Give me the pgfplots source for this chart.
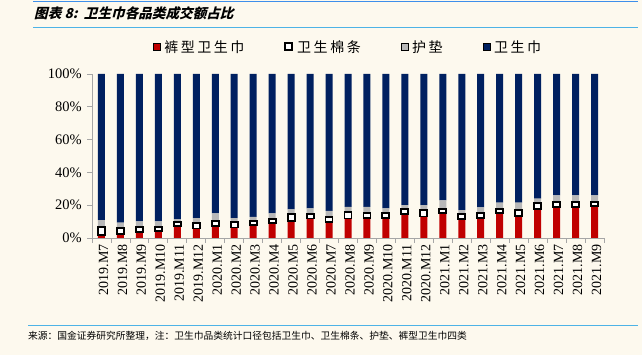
\documentclass[border=0pt]{standalone}
\usepackage{fontspec}
\setmainfont{Liberation Serif}
\newfontfamily\cjk{Noto Sans CJK SC}
\newfontfamily\cjktitle[FakeSlant=0.25]{Noto Sans CJK SC}
\newfontfamily\cjklegend[LetterSpace=18]{Noto Sans CJK SC}
\usepackage{pgfplots}
\usepackage{pgfplotstable}
\pgfplotsset{compat=1.18}
\definecolor{bgc}{HTML}{FDF9EE}
\definecolor{cred}{HTML}{C00000}
\definecolor{cnavy}{HTML}{002060}
\definecolor{cgray}{HTML}{B8B8B8}
\definecolor{lineblue}{HTML}{4DB3E6}
\definecolor{axgray}{HTML}{A6A6A6}
\pgfplotstableread{
x R T G N
0 1.8 5.0 4.1 89.1
1 2.2 3.7 3.4 90.7
2 3.4 3.5 3.2 89.9
3 4.0 2.9 3.2 89.9
4 7.1 2.7 1.5 88.7
5 5.8 3.1 3.2 87.9
6 7.1 3.3 4.6 85.0
7 6.4 3.1 2.6 87.9
8 8.0 2.6 2.3 87.1
9 8.9 2.9 3.2 85.0
10 10.5 4.0 2.9 82.6
11 11.9 2.9 3.2 82.0
12 9.5 3.3 3.8 83.4
13 11.9 3.7 3.4 81.0
14 12.1 3.3 3.6 81.0
15 12.1 3.0 2.9 82.0
16 14.5 3.3 2.2 80.0
17 13.1 3.7 3.2 80.0
18 15.1 2.7 5.2 77.0
19 11.5 3.0 2.5 83.0
20 12.1 3.3 3.2 81.4
21 15.1 2.7 3.8 78.4
22 13.5 3.4 4.7 78.4
23 17.6 3.9 2.5 76.0
24 18.8 3.3 3.9 74.0
25 18.8 3.3 3.9 74.0
26 19.6 2.6 3.8 74.0
}\datatable
\pgfplotsset{common/.style={
  at={(92pt,117pt)}, anchor=south west,
  scale only axis, width=512pt, height=164pt,
  ybar stacked, bar width=7pt,
  xmin=-0.5, xmax=26.5, ymin=0, ymax=100}}
\begin{document}
\begin{tikzpicture}
\fill[bgc] (0,0) rectangle (642pt,355pt);
\draw[lineblue!80!blue, line width=0.8pt] (33pt,354pt) -- (638pt,354pt);
\draw[lineblue, line width=1.6pt] (33pt,327.3pt) -- (638pt,327.3pt);
\draw[lineblue, line width=1.3pt] (28pt,29.5pt) -- (638pt,29.5pt);
\node[anchor=west, inner sep=0pt] at (34pt,342pt) {\cjktitle\bfseries\fontsize{13.6}{14}\selectfont 图表 8:\, 卫生巾各品类成交额占比};
\node[anchor=west, inner sep=0pt] at (28pt,19pt) {\cjk\fontsize{9.75}{11}\selectfont 来源：国金证券研究所整理，注：卫生巾品类统计口径包括卫生巾、卫生棉条、护垫、裤型卫生巾四类};
\begin{axis}[
  common,
  axis x line*=bottom, axis y line*=left,
  axis line style={axgray, line width=0.8pt},
  xtick={0,...,26},
  xticklabels={2019.M7,2019.M8,2019.M9,2019.M10,2019.M11,2019.M12,2020.M1,2020.M2,2020.M3,2020.M4,2020.M5,2020.M6,2020.M7,2020.M8,2020.M9,2020.M10,2020.M11,2020.M12,2021.M1,2021.M2,2021.M3,2021.M4,2021.M5,2021.M6,2021.M7,2021.M8,2021.M9},
  major x tick style={draw=none},
  minor xtick={-0.5,0.5,...,26.5},
  minor x tick style={axgray, line width=0.8pt},
  minor tick length=5pt,
  tick align=outside,
  ytick={0,20,40,60,80,100},
  major y tick style={axgray, line width=0.8pt},
  major tick length=5pt,
  xticklabel style={rotate=90, anchor=east, font=\fontsize{14}{14}\selectfont, inner sep=1pt, yshift=-2pt},
  yticklabel style={font=\fontsize{14.5}{14.5}\selectfont, inner sep=1pt, xshift=-4pt},
  /pgf/number format/assume math mode=true,
  yticklabel={\pgfmathprintnumber{\tick}\%},
  legend style={at={(0.5,1.165)}, anchor=center, draw=none, fill=none, legend columns=4,
    font=\cjklegend\fontsize{14}{14}\selectfont,
    /tikz/every even column/.append style={column sep=38pt},
    /tikz/every odd column/.append style={column sep=2pt},
    legend cell align=left},
  legend image code/.code={\draw[#1] (0pt,-3.5pt) rectangle (7pt,3.5pt);},
]
\addplot[fill=cred, draw=none] table[x=x,y=R]{\datatable};
\addlegendentry{裤型卫生巾}
\addplot[fill=white, draw=black, line width=1.9pt] table[x=x,y=T]{\datatable};
\addlegendentry{卫生棉条}
\addplot[fill=cgray, draw=none] table[x=x,y=G]{\datatable};
\addlegendentry{护垫}
\addplot[fill=cnavy, draw=none] table[x=x,y=N]{\datatable};
\addlegendentry{卫生巾}
\end{axis}
\begin{axis}[common, hide axis]
\addplot[fill=none, draw=none] table[x=x,y=R]{\datatable};
\addplot[fill=white, draw=black, line width=1.9pt] table[x=x,y=T]{\datatable};
\end{axis}
\end{tikzpicture}
\end{document}
